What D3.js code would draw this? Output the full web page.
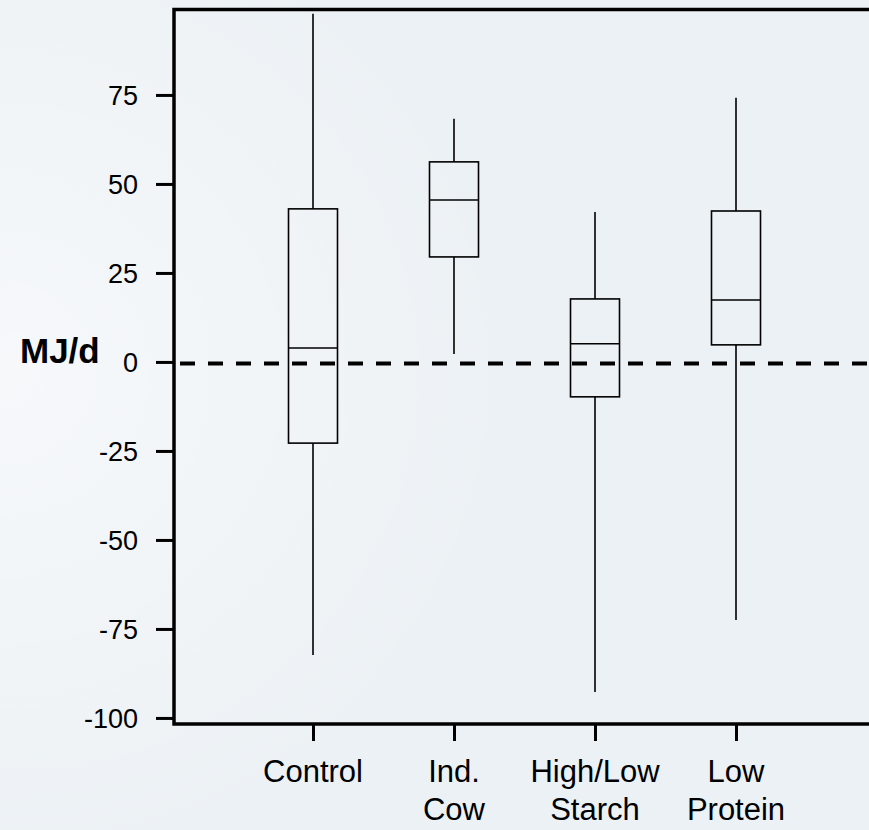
<!DOCTYPE html>
<html>
<head>
<meta charset="utf-8">
<script src="https://cdn.jsdelivr.net/npm/d3@7"></script>
<style>
  html, body { margin: 0; padding: 0; }
  body { width: 869px; height: 830px; overflow: hidden; background: #edf2f6; }
  text { font-family: 'Liberation Sans', Arial, sans-serif; fill: #000; }
</style>
</head>
<body>
<div id="chart-container" style="width:869px;height:830px"></div>
<script>
// groups and their x labels (two lines each)
const groups = ['Control', 'Ind. Cow', 'High/Low Starch', 'Low Protein']
const groupLabels = [['Control'], ['Ind.', 'Cow'], ['High/Low', 'Starch'], ['Low', 'Protein']]

// box plot summaries (MJ/d)
const whiskerHigh = [97.8, 68.3, 42.1, 74.2]
const q3 = [43.0, 56.2, 17.7, 42.4]
const median = [3.9, 45.5, 5.1, 17.4]
const q1 = [-22.8, 29.5, -9.8, 4.8]
const whiskerLow = [-82.3, 2.2, -92.7, -72.5]

const yTicks = [75, 50, 25, 0, -25, -50, -75, -100]

const W = 869
const H = 830
const frame = { left: 174, top: 9.5, right: 869, bottom: 724 }
const boxWidth = 49

const y = d3.scaleLinear()
  .domain([-101.7, 99])
  .range([frame.bottom, frame.top])

const x = d3.scalePoint()
  .domain(groups)
  .range([313, 736])

const svg = d3.select('#chart-container').append('svg')
  .attr('width', W)
  .attr('height', H)

// faint globe-ish background
const defs = svg.append('defs')
const grad = defs.append('radialGradient')
  .attr('id', 'glow')
  .attr('cx', '0%').attr('cy', '45%').attr('r', '60%')
grad.append('stop').attr('offset', '0%').attr('stop-color', '#ffffff').attr('stop-opacity', 0.55)
grad.append('stop').attr('offset', '100%').attr('stop-color', '#ffffff').attr('stop-opacity', 0)

svg.append('rect')
  .attr('width', W).attr('height', H)
  .attr('fill', '#ecf1f5')
svg.append('rect')
  .attr('width', W).attr('height', H)
  .attr('fill', 'url(#glow)')

// frame (no right side visible)
svg.append('path')
  .attr('d', `M${frame.right},${frame.top}H${frame.left}V${frame.bottom}H${frame.right}`)
  .attr('fill', 'none')
  .attr('stroke', '#000')
  .attr('stroke-width', 3.5)

// y axis
const yAxis = d3.axisLeft(y)
  .tickValues(yTicks)
  .tickSize(18)
  .tickPadding(18)
  .tickFormat(d => String(d))

const gy = svg.append('g')
  .attr('transform', 'translate(' + frame.left + ',0)')
  .call(yAxis)
gy.select('.domain').remove()
gy.selectAll('.tick line').attr('stroke', '#000').attr('stroke-width', 3)
gy.selectAll('.tick text')
  .style('font-family', "'Liberation Sans', Arial, sans-serif")
  .style('font-size', '27px')
  .attr('dy', '0.36em')

// x axis
const xAxis = d3.axisBottom(x)
  .tickSize(17)
  .tickFormat('')

const gx = svg.append('g')
  .attr('transform', 'translate(0,' + frame.bottom + ')')
  .call(xAxis)
gx.select('.domain').remove()
gx.selectAll('.tick line').attr('stroke', '#000').attr('stroke-width', 3)

// multi-line category labels
groups.forEach((g, i) => {
  const t = svg.append('text')
    .attr('text-anchor', 'middle')
    .attr('x', x(g))
    .attr('y', 782)
    .style('font-size', '31px')
  groupLabels[i].forEach((line, j) => {
    t.append('tspan')
      .attr('x', x(g))
      .attr('dy', j === 0 ? 0 : 38)
      .text(line)
  })
})

// y label
svg.append('text')
  .attr('x', 20)
  .attr('y', y(0) + 1)
  .style('font-size', '35px')
  .style('font-weight', 'bold')
  .text('MJ/d')

// dashed zero line
svg.append('line')
  .attr('x1', frame.left + 6)
  .attr('x2', frame.right)
  .attr('y1', y(0) + 1.5)
  .attr('y2', y(0) + 1.5)
  .attr('stroke', '#000')
  .attr('stroke-width', 4)
  .attr('stroke-dasharray', '15,13')

// boxes
const boxes = svg.append('g')
  .attr('fill', 'none')
  .attr('stroke', '#000')
  .attr('stroke-width', 1.6)

groups.forEach((g, i) => {
  const cx = x(g)
  // upper whisker
  boxes.append('line')
    .attr('x1', cx).attr('x2', cx)
    .attr('y1', y(whiskerHigh[i])).attr('y2', y(q3[i]))
  // lower whisker
  boxes.append('line')
    .attr('x1', cx).attr('x2', cx)
    .attr('y1', y(q1[i])).attr('y2', y(whiskerLow[i]))
  // box
  boxes.append('rect')
    .attr('x', cx - boxWidth / 2)
    .attr('y', y(q3[i]))
    .attr('width', boxWidth)
    .attr('height', y(q1[i]) - y(q3[i]))
  // median
  boxes.append('line')
    .attr('x1', cx - boxWidth / 2).attr('x2', cx + boxWidth / 2)
    .attr('y1', y(median[i])).attr('y2', y(median[i]))
})
</script>
</body>
</html>
